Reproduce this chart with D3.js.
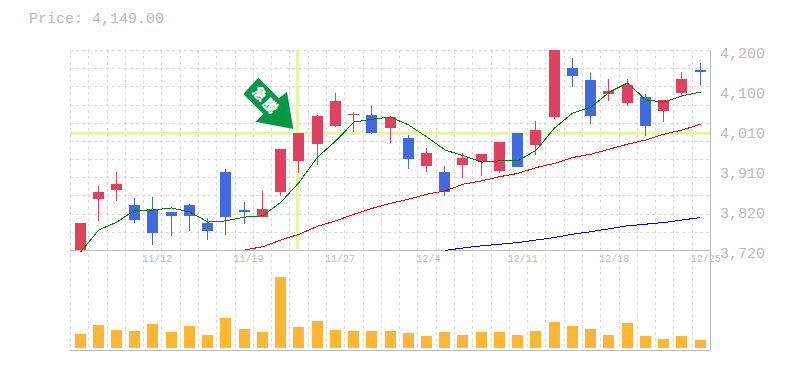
<!DOCTYPE html>
<html>
<head>
<meta charset="utf-8">
<style>
  html, body { margin: 0; padding: 0; background: #fff; }
  svg { display: block; }
  text { font-family: "Liberation Mono", monospace; fill: #bbb; }
</style>
<script src="https://cdn.jsdelivr.net/npm/d3@7/dist/d3.min.js"></script>
</head>
<body>
<svg width="785" height="370"></svg>
<script>
var opens  = [3720,3842,3864,3828,3818,3811,3828,3785,3907,3816,3799,3859,3934,3974,4018,4044,4044,4013,3989,3922,3907,3924,3934,3910,4001,3972,4039,4157,4128,4094,4073,4087,4054,4097,4152];
var highs  = [3785,3874,3907,3845,3847,3811,3830,3797,3914,3835,3862,3962,4001,4044,4097,4051,4066,4042,3996,3965,3922,3953,3950,3979,4001,4030,4200,4181,4145,4130,4130,4094,4080,4147,4169];
var lows   = [3720,3790,3838,3785,3732,3754,3766,3744,3756,3782,3799,3850,3905,3924,4015,4003,3998,3977,3914,3907,3850,3893,3898,3905,3919,3948,4034,4111,4022,4078,4066,3994,4027,4087,4116];
var closes = [3785,3859,3878,3792,3761,3802,3802,3766,3799,3811,3818,3962,4001,4042,4078,4046,4001,4039,3938,3953,3859,3941,3950,3979,3919,4008,4200,4138,4042,4102,4116,4018,4080,4130,4147];
var volumes = [14,23,18,17,24,16,22,13,30,19,16,71,21,27,18,17,17,17,15,12,16,13,16,16,13,17,26,22,19,13,25,12,9,12,8];

var maShort = [3715,3768,3787,3816,3816,3821,3811,3787,3790,3799,3802,3835,3883,3943,3982,4027,4034,4039,4020,3991,3960,3946,3931,3934,3934,3960,4013,4049,4063,4099,4121,4080,4075,4090,4099];
var maMid = [null,null,null,null,null,null,null,null,null,3720,3728,3744,3758,3777,3790,3806,3820,3832,3842,3854,3862,3878,3886,3896,3904,3918,3928,3942,3950,3962,3974,3984,3998,4008,4022];
var maLong = [null,null,null,null,null,null,null,null,null,null,null,null,null,null,null,null,null,null,null,null,3719,3725,3730,3734,3738,3744,3750,3758,3764,3771,3778,3782,3786,3792,3798];

var yTicks = [4200,4104,4008,3912,3816,3720];
var yLabels = ["4,200","4,100","4,010","3,910","3,820","3,720"];
var dateTicks = [4,9,14,19,24,29,34];
var dateLabels = ["11/12","11/19","11/27","12/4","12/11","12/18","12/25"];
var crossIndex = 12;
var crossPrice = 4000;
var lastPrice = "Price: 4,149.00";

var UP = "#e2405f", DOWN = "#4169e1", VOL = "#ffb733", CROSS = "#e4f5a6", GRID = "#ddd", AXIS = "#bbb";

var svg = d3.select("svg");

var x = d3.scaleLinear().domain([0, 34]).range([80.5, 700.5]);
var gridX = d3.scaleLinear().domain([0, 35]).range([70, 710]);
var y = d3.scaleLinear().domain([3720, 4200]).range([250, 50]);
var gridY = d3.scaleLinear().domain([0, 11]).range([50, 250]);
var yVol = d3.scaleLinear().domain([0, 71]).range([348, 277]);

var idx = d3.range(closes.length);
var left = i => Math.floor(x(i) - 5.5);

// grid
svg.append("g").selectAll("line").data(d3.range(36)).enter().append("line")
  .attr("x1", d => Math.round(gridX(d)) + 0.5).attr("x2", d => Math.round(gridX(d)) + 0.5)
  .attr("y1", 50).attr("y2", 350)
  .attr("stroke", GRID).attr("stroke-dasharray", "3,3");
svg.append("g").selectAll("line").data(d3.range(12)).enter().append("line")
  .attr("x1", 70).attr("x2", 710)
  .attr("y1", d => Math.round(gridY(d)) + 0.5).attr("y2", d => Math.round(gridY(d)) + 0.5)
  .attr("stroke", GRID).attr("stroke-dasharray", "3,3");

// crosshair
svg.append("line").attr("x1", x(crossIndex) - 2).attr("x2", x(crossIndex) - 2)
  .attr("y1", 50).attr("y2", 249)
  .attr("stroke", CROSS).attr("stroke-width", 3);
svg.append("line").attr("x1", 70).attr("x2", 710)
  .attr("y1", y(crossPrice)).attr("y2", y(crossPrice))
  .attr("stroke", CROSS).attr("stroke-width", 3);

// frame
[[70, 710, 250, 250], [70, 710, 350, 350], [710, 710, 50, 350]].forEach(function (l) {
  svg.append("line")
    .attr("x1", l[0]).attr("x2", l[1]).attr("y1", l[2] + 0.5).attr("y2", l[3] + 0.5)
    .attr("transform", l[0] == l[1] ? "translate(0.5,0)" : null)
    .attr("stroke", AXIS);
});

// volume
svg.append("g").selectAll("rect").data(idx).enter().append("rect")
  .attr("x", left)
  .attr("width", 11)
  .attr("y", i => yVol(volumes[i]))
  .attr("height", i => yVol(0) - yVol(volumes[i]))
  .attr("fill", VOL);

// candles
var candle = svg.append("g").attr("shape-rendering", "crispEdges")
  .selectAll("g").data(idx).enter().append("g")
  .attr("fill", i => closes[i] >= opens[i] ? UP : DOWN);
candle.append("rect")
  .attr("x", i => left(i) + 5)
  .attr("width", 1)
  .attr("y", i => y(highs[i]))
  .attr("height", i => y(lows[i]) - y(highs[i]));
candle.append("rect")
  .attr("x", left)
  .attr("width", 11)
  .attr("y", i => y(Math.max(opens[i], closes[i])))
  .attr("height", i => Math.max(1, y(Math.min(opens[i], closes[i])) - y(Math.max(opens[i], closes[i]))));

// moving averages
var line = d3.line().defined(d => d != null).x((d, i) => x(i)).y(d => y(d));
[[maShort, "#008000", 1], [maMid, "#f00", 1], [maLong, "#00f", 1]].forEach(function (s) {
  svg.append("path").attr("d", line(s[0]))
    .attr("fill", "none").attr("stroke", s[1]).attr("stroke-width", s[2])
    .attr("shape-rendering", "crispEdges");
});

// axis labels
var yAxis = d3.axisRight(y).tickValues(yTicks).tickFormat((d, i) => yLabels[i]).tickSize(0).tickPadding(10);
var gy = svg.append("g").attr("transform", "translate(710,3)").call(yAxis);
gy.select(".domain").remove();
gy.selectAll("text").attr("font-size", 15).style("fill", AXIS);

var xAxis = d3.axisBottom(gridX).tickValues(dateTicks).tickFormat((d, i) => dateLabels[i]).tickSize(0).tickPadding(5);
var gx = svg.append("g").attr("transform", "translate(-1.5,250)").call(xAxis);
gx.select(".domain").remove();
gx.selectAll("text").attr("font-size", 10).attr("text-anchor", "start").style("fill", AXIS);
gx.attr("font-family", null);
gy.attr("font-family", null);

svg.append("text").attr("x", 29).attr("y", 23).attr("font-size", 15).text(lastPrice);

// arrow marker, tip sits just left of the crosshair
var arrow = svg.append("g").attr("transform", "translate(293.3,129)");
arrow.append("polygon")
  .attr("points", "0,0 -38,-7.3 -30,-15 -50,-35 -35,-51.3 -14.3,-30.7 -6.3,-37.3")
  .attr("fill", "#009944");
[["急", -33.5, -35], ["騰", -23, -23]].forEach(function (c) {
  arrow.append("text")
    .attr("transform", "translate(" + c[1] + "," + c[2] + ") rotate(45)")
    .attr("text-anchor", "middle").attr("dy", "0.36em")
    .attr("font-size", 14).attr("font-weight", 900)
    .style("font-family", '"Noto Sans CJK JP"').style("fill", "#fff")
    .text(c[0]);
});
</script>
</body>
</html>
